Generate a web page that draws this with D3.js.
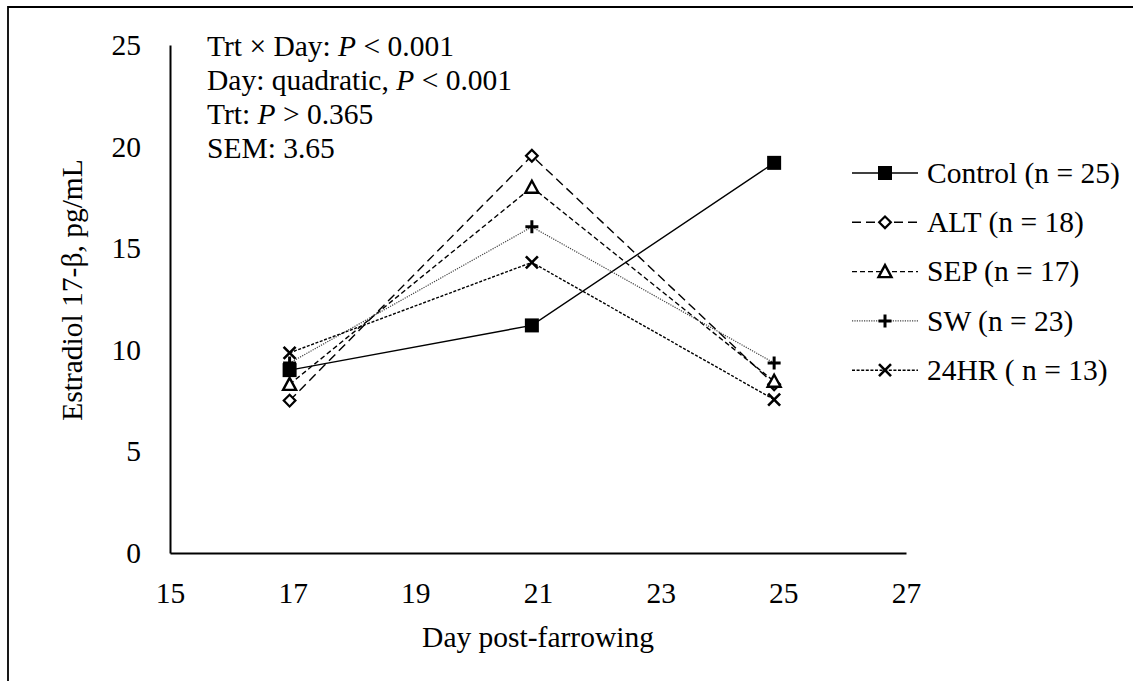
<!DOCTYPE html>
<html>
<head>
<meta charset="utf-8">
<title>Estradiol 17-beta by day post-farrowing</title>
<script src="https://cdnjs.cloudflare.com/ajax/libs/d3/7.8.5/d3.min.js"></script>
<style>
  body { margin: 0; background: #fff; }
  text { font-family: "Liberation Serif", "Times New Roman", serif; fill: #000; }
</style>
</head>
<body>
<svg id="chart"></svg>
<script>
// data
var days = [16.95, 20.9, 24.85];
var seriesNames = ["Control (n = 25)", "ALT (n = 18)", "SEP (n = 17)", "SW (n = 23)", "24HR ( n = 13)"];
var control = [9.0, 11.2, 19.2];
var alt = [7.5, 19.55, 8.3];
var sep = [8.3, 18.0, 8.45];
var sw = [9.35, 16.05, 9.35];
var hr24 = [9.85, 14.3, 7.55];
var xTicks = [15, 17, 19, 21, 23, 25, 27];
var yTicks = [0, 5, 10, 15, 20, 25];
var notes = ["Trt \u00d7 Day: |P| < 0.001", "Day: quadratic, |P| < 0.001", "Trt: |P| > 0.365", "SEM: 3.65"];

var W = 1133, H = 681;
var fs = 29.5;
var svg = d3.select("#chart").attr("width", W).attr("height", H);

// frame (only left and top edges show in the picture)
svg.append("path").attr("d", "M8,681 V7 H1133")
  .attr("style", "fill:none; stroke:#000; stroke-width:1.8");

var x = d3.scaleLinear().domain([15, 27]).range([170, 906]);
var y = d3.scaleLinear().domain([0, 25]).range([553, 45]);

// axes, no tick marks
var xAxis = svg.append("g").attr("transform", "translate(0," + y(0) + ")")
  .call(d3.axisBottom(x).tickValues(xTicks).tickSize(0).tickPadding(30).tickFormat(d3.format("d")));
var yAxis = svg.append("g").attr("transform", "translate(" + x(15) + ",0)")
  .call(d3.axisLeft(y).tickValues(yTicks).tickSize(0).tickPadding(29));
[xAxis, yAxis].forEach(function(a) {
  a.select(".domain").attr("stroke", "#000").attr("stroke-width", 2);
  a.selectAll("text").attr("font-size", fs);
});
xAxis.selectAll("text").attr("dy", "0.68em");
yAxis.selectAll("text").attr("dy", "0.32em");

svg.append("text").attr("x", (x(15) + x(27)) / 2).attr("y", 647)
  .attr("text-anchor", "middle").attr("font-size", fs).text("Day post-farrowing");
svg.append("text").attr("transform", "translate(82," + 290 + ") rotate(-90)")
  .attr("text-anchor", "middle").attr("font-size", fs).text("Estradiol 17-\u03b2, pg/mL");

// annotation, P in italics
notes.forEach(function(s, i) {
  var t = svg.append("text").attr("x", 207).attr("y", 56 + i * 34).attr("font-size", fs);
  s.split("|").forEach(function(part, j) {
    t.append("tspan").attr("font-style", j % 2 ? "italic" : "normal").text(part);
  });
});

// series styles
var styles = [
  { vals: control, dash: null, w: 1.4, col: "#000", mark: "square" },
  { vals: alt, dash: "9,5", w: 1.4, col: "#000", mark: "diamond" },
  { vals: sep, dash: "5,3", w: 1.4, col: "#000", mark: "triangle" },
  { vals: sw, dash: "1.2,1.2", w: 1.2, col: "#444", mark: "plus" },
  { vals: hr24, dash: "3,1.6", w: 1.4, col: "#000", mark: "cross" }
];

function drawMarker(g, kind, cx, cy) {
  if (kind == "square") {
    g.append("rect").attr("x", cx - 7).attr("y", cy - 7).attr("width", 14).attr("height", 14).attr("fill", "#000");
  } else if (kind == "diamond") {
    g.append("path").attr("d", d3.symbol(d3.symbolSquare, 68)()).attr("transform", "translate(" + cx + "," + cy + ") rotate(45)")
      .attr("fill", "#fff").attr("stroke", "#000").attr("stroke-width", 2.2);
  } else if (kind == "triangle") {
    g.append("path").attr("d", "M0,-6.5 L6.5,5.5 L-6.5,5.5 Z").attr("transform", "translate(" + cx + "," + cy + ")")
      .attr("fill", "#fff").attr("stroke", "#000").attr("stroke-width", 2.4).attr("stroke-linejoin", "miter");
  } else if (kind == "plus") {
    g.append("path").attr("d", "M-6.5,0 H6.5 M0,-6.5 V6.5").attr("transform", "translate(" + cx + "," + cy + ")")
      .attr("stroke", "#000").attr("stroke-width", 3);
  } else {
    g.append("path").attr("d", "M-6,-6 L6,6 M-6,6 L6,-6").attr("transform", "translate(" + cx + "," + cy + ")")
      .attr("stroke", "#000").attr("stroke-width", 2.6);
  }
}

var line = d3.line()
  .x(function(d, i) { return x(days[i]); })
  .y(function(d) { return y(d); });

styles.forEach(function(s) {
  svg.append("path").datum(s.vals).attr("d", line)
    .attr("fill", "none").attr("stroke", s.col).attr("stroke-width", s.w)
    .attr("stroke-dasharray", s.dash);
});
styles.forEach(function(s) {
  var g = svg.append("g");
  s.vals.forEach(function(v, i) { drawMarker(g, s.mark, x(days[i]), y(v)); });
});

// legend
var leg = svg.append("g");
styles.forEach(function(s, i) {
  var ly = 173 + i * 49.3;
  leg.append("line").attr("x1", 852).attr("x2", 918).attr("y1", ly).attr("y2", ly)
    .attr("stroke", s.col).attr("stroke-width", s.w).attr("stroke-dasharray", s.dash);
  drawMarker(leg, s.mark, 885, ly);
  leg.append("text").attr("x", 927).attr("y", ly).attr("dy", "0.33em").attr("font-size", fs).text(seriesNames[i]);
});
</script>
</body>
</html>
